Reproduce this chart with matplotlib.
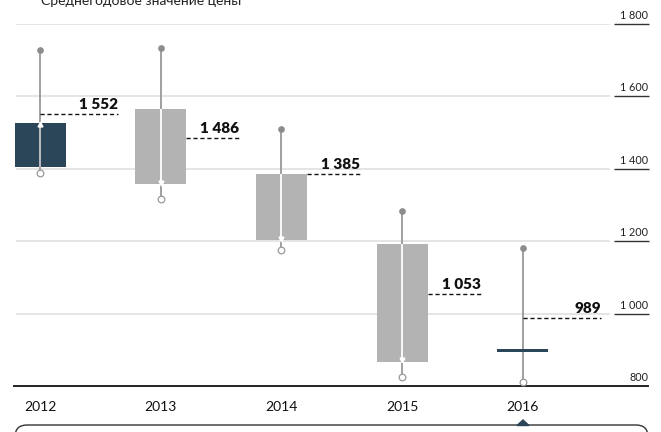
import matplotlib
matplotlib.use('Agg')
import matplotlib.pyplot as plt
from matplotlib.patches import FancyBboxPatch, Polygon

plt.rcParams['font.family'] = ['Lato', 'DejaVu Sans']

# ---- data ----
years = ['2012', '2013', '2014', '2015', '2016']
open_p = [1405, 1565, 1386, 1191, 901]
close_p = [1527, 1357, 1203, 867, 893]
high_p = [1728, 1735, 1511, 1283, 1182]
low_p = [1388, 1317, 1177, 826, 812]
avg_p = [1552, 1486, 1385, 1053, 989]
avg_labels = ['1 552', '1 486', '1 385', '1 053', '989']
bar_colors = ['#2c4659', '#b3b3b3', '#b3b3b3', '#b3b3b3', '#2c4659']
yticks = [800, 1000, 1200, 1400, 1600, 1800]
ytick_labels = ['800', '1 000', '1 200', '1 400', '1 600', '1 800']
title = 'Среднегодовое значение цены'

W, H = 661, 432
fig = plt.figure(figsize=(W / 100, H / 100), dpi=100)

# main axes mapped to pixel layout
ax_l, ax_r, ax_t, ax_b = 14, 648, 24, 386
ax = fig.add_axes([ax_l / W, 1 - ax_b / H, (ax_r - ax_l) / W, (ax_b - ax_t) / H])
sp = 120.7
ax.set_xlim(-(40 - ax_l) / sp, (ax_r - 40) / sp)
ax.set_ylim(800, 1800)
ax.set_xticks([])
ax.set_yticks([])
for s in ['top', 'right', 'left']:
    ax.spines[s].set_visible(False)
ax.spines['bottom'].set_color('#222222')
ax.spines['bottom'].set_linewidth(1.4)
ax.spines['bottom'].set_zorder(1.5)

gx0 = (16 - 40) / sp
gx1 = (610 - 40) / sp
ux0 = (614 - 40) / sp
ux1 = (649 - 40) / sp
lab_x = (648 - 40) / sp
for v, lab in zip(yticks, ytick_labels):
    if v != 800:
        ax.hlines(v, gx0, gx1, color='#e3e3e3', lw=1.3, zorder=0)
        ax.hlines(v, ux0, ux1, color='#333333', lw=1.0, zorder=0, clip_on=False)
    ax.annotate(lab, (lab_x, v), xytext=(0, 3), textcoords='offset pixels',
                ha='right', va='bottom', fontsize=7.8, color='#222222',
                annotation_clip=False)

bw = 51 / sp
for i, yr in enumerate(years):
    o, c, hi, lo = open_p[i], close_p[i], high_p[i], low_p[i]
    col = bar_colors[i]
    # whisker
    ax.vlines(i, lo, hi, color='#999999', lw=1.3, zorder=1)
    ax.plot(i, hi, 'o', ms=3.8, color='#8c8c8c', mec='#8c8c8c', zorder=4, clip_on=False)
    ax.plot(i, lo, 'o', ms=4.8, mfc='white', mec='#999999', mew=0.9, zorder=4, clip_on=False)
    # body
    bottom = min(o, c)
    height = abs(c - o)
    ax.bar(i, height, bottom=bottom, width=bw, color=col, zorder=2)
    if height > 20:
        inner = 'white' if col == '#b3b3b3' else '#c8c8c8'
        ax.vlines(i, bottom, bottom + height, color=inner, lw=1.3, zorder=3)
        up = c > o
        ax.plot(i, c - (4 if up else -4), '^' if up else 'v', ms=3.5,
                color='white', mec='white', zorder=5)
    # average line
    a = avg_p[i]
    start = i + bw / 2 if bottom <= a <= bottom + height else i
    end = i + 0.65
    ax.hlines(a, start, end, color='#111111', lw=1.0, linestyles=(0, (3, 2)), zorder=3)
    ax.annotate(avg_labels[i], (end, a), xytext=(0, 3), textcoords='offset pixels',
                ha='right', va='bottom', fontsize=11, fontweight='heavy',
                color='#111111', annotation_clip=False)
    # year label
    ax.annotate(yr, (i, 800), xytext=(0, -21), textcoords='offset pixels',
                ha='center', va='center', fontsize=10, color='#111111',
                annotation_clip=False)

# overlay for decorations
ov = fig.add_axes([0, 0, 1, 1], zorder=-1)
ov.set_xlim(0, W)
ov.set_ylim(H, 0)
ov.axis('off')
box = FancyBboxPatch((15, 425), 633, 60, boxstyle='round,pad=0,rounding_size=12',
                     fc='white', ec='#333333', lw=1.0)
ov.add_patch(box)
ov.add_patch(Polygon([(517, 425.5), (529, 425.5), (523, 420)], closed=True,
                     color='#2c4659'))
ov.text(41, 5, title, ha='left', va='baseline', fontsize=10, color='#222222')

fig.savefig('out.png', dpi=100)
